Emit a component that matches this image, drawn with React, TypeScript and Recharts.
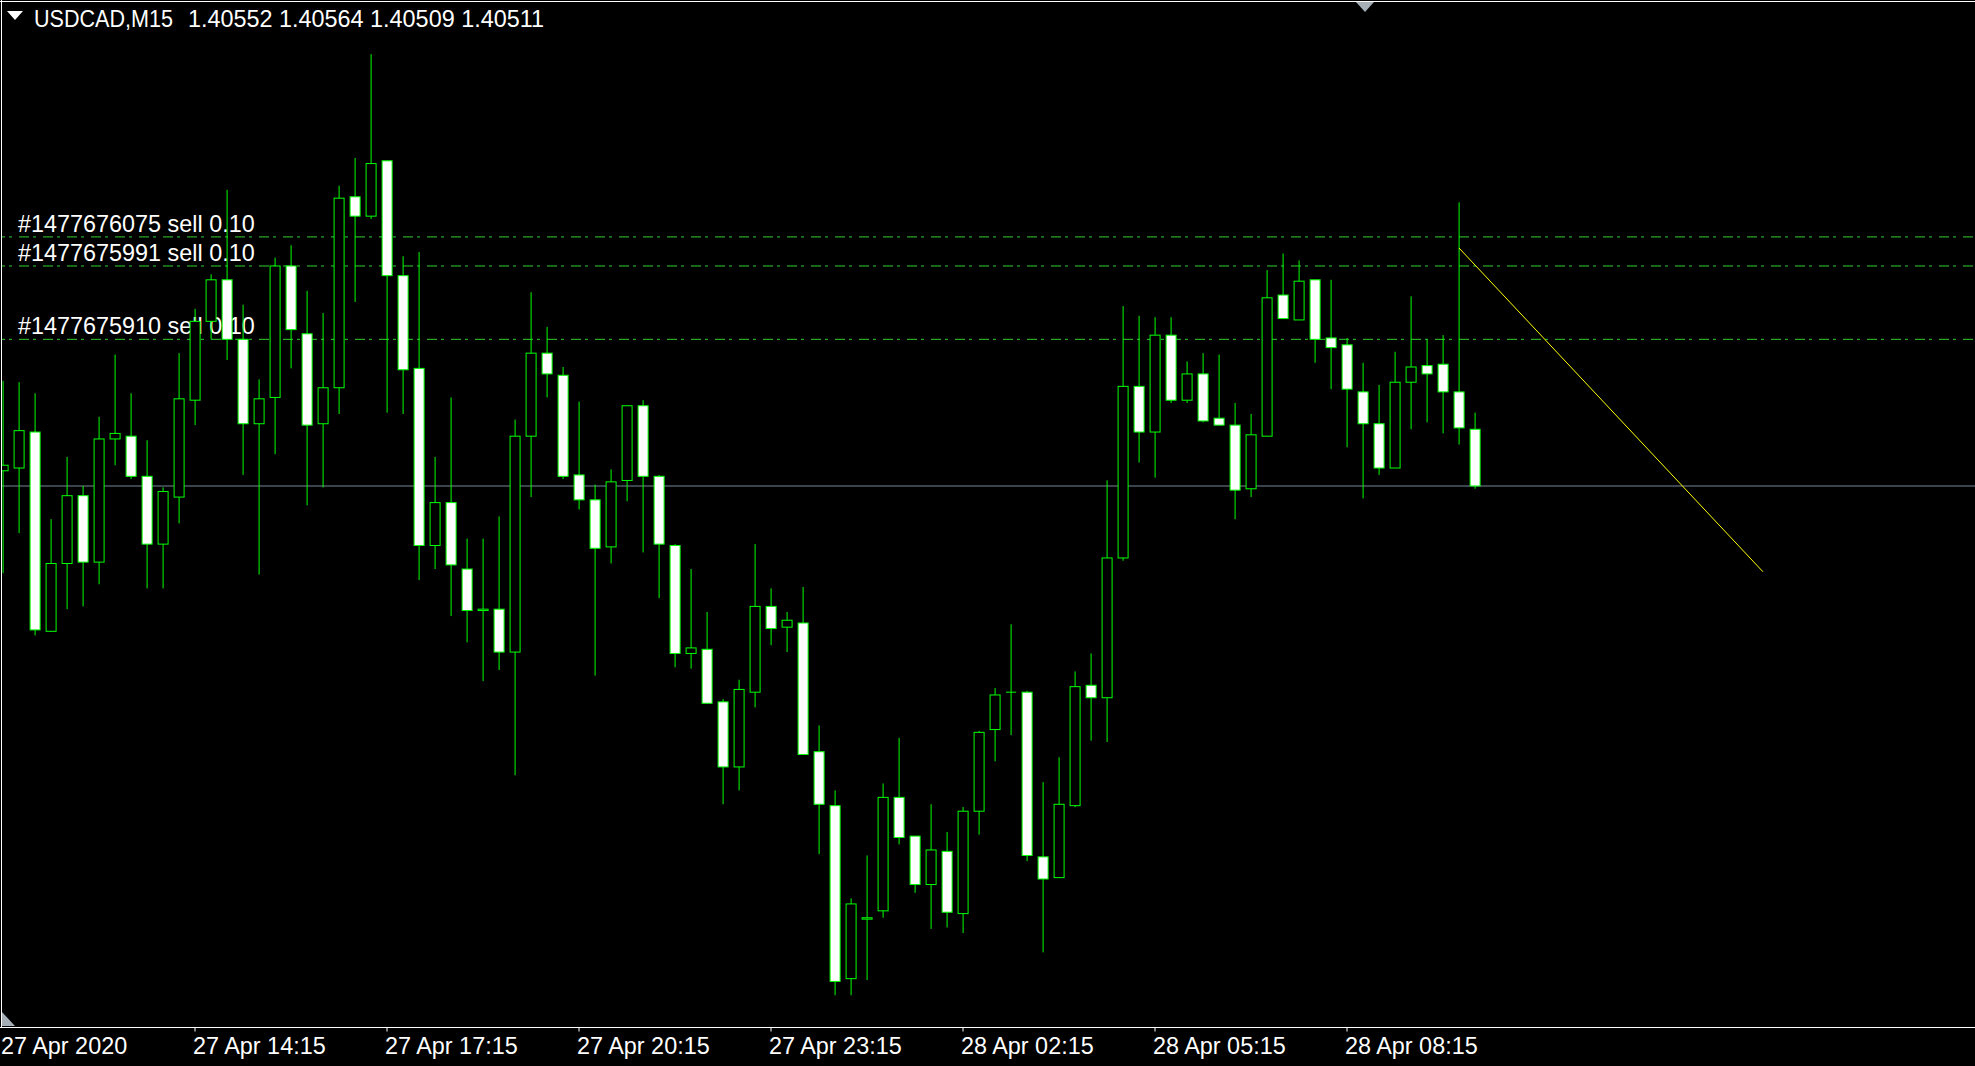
import React from 'react';
import { ComposedChart, Bar, XAxis, YAxis, ReferenceLine } from 'recharts';

const TITLE_SYMBOL = 'USDCAD,M15';
const TITLE_OHLC = '1.40552 1.40564 1.40509 1.40511';

// x axis labels, one every 12 bars (3 hours of M15)
const TICK_SLOTS = [0, 12, 24, 36, 48, 60, 72, 84];
const TICK_LABELS = [
  '27 Apr 2020', '27 Apr 14:15', '27 Apr 17:15', '27 Apr 20:15',
  '27 Apr 23:15', '28 Apr 02:15', '28 Apr 05:15', '28 Apr 08:15',
];

const OPEN = [
  1.40522, 1.40524, 1.40550, 1.40406, 1.40455, 1.40504, 1.40456, 1.40545, 1.40547, 1.40518,
  1.40469, 1.40503, 1.40573, 1.40630, 1.40660, 1.40617, 1.40556, 1.40575, 1.40670, 1.40621,
  1.40556, 1.40582, 1.40720, 1.40706, 1.40746, 1.40663, 1.40596, 1.40468, 1.40499, 1.40451,
  1.40421, 1.40422, 1.40391, 1.40547, 1.40607, 1.40591, 1.40519, 1.40501, 1.40467, 1.40515,
  1.40569, 1.40518, 1.40468, 1.40390, 1.40393, 1.40355, 1.40308, 1.40362, 1.40424, 1.40409,
  1.40412, 1.40319, 1.40280, 1.40155, 1.40198, 1.40204, 1.40286, 1.40258, 1.40223, 1.40247,
  1.40202, 1.40276, 1.40335, 1.40362, 1.40362, 1.40243, 1.40228, 1.40280, 1.40367, 1.40358,
  1.40459, 1.40583, 1.40550, 1.40620, 1.40573, 1.40592, 1.40560, 1.40555, 1.40509, 1.40547,
  1.40649, 1.40631, 1.40660, 1.40618, 1.40613, 1.40579, 1.40556, 1.40524, 1.40586, 1.40598,
  1.40599, 1.40579, 1.40552,
];
const HIGH = [
  1.40587, 1.40586, 1.40578, 1.40487, 1.40532, 1.40511, 1.40561, 1.40606, 1.40578, 1.40544,
  1.40510, 1.40607, 1.40639, 1.40664, 1.40725, 1.40642, 1.40588, 1.40676, 1.40685, 1.40652,
  1.40636, 1.40728, 1.40748, 1.40823, 1.40746, 1.40677, 1.40680, 1.40532, 1.40575, 1.40473,
  1.40473, 1.40489, 1.40559, 1.40651, 1.40626, 1.40597, 1.40572, 1.40512, 1.40523, 1.40569,
  1.40573, 1.40519, 1.40469, 1.40451, 1.40420, 1.40357, 1.40371, 1.40469, 1.40437, 1.40420,
  1.40438, 1.40338, 1.40291, 1.40213, 1.40244, 1.40296, 1.40329, 1.40258, 1.40281, 1.40261,
  1.40279, 1.40334, 1.40365, 1.40411, 1.40363, 1.40297, 1.40315, 1.40377, 1.40390, 1.40515,
  1.40641, 1.40634, 1.40633, 1.40633, 1.40601, 1.40607, 1.40606, 1.40571, 1.40563, 1.40667,
  1.40679, 1.40674, 1.40660, 1.40660, 1.40618, 1.40600, 1.40584, 1.40608, 1.40648, 1.40617,
  1.40620, 1.40716, 1.40564,
];
const LOW = [
  1.40448, 1.40477, 1.40403, 1.40406, 1.40422, 1.40424, 1.40440, 1.40526, 1.40516, 1.40437,
  1.40437, 1.40484, 1.40555, 1.40617, 1.40602, 1.40519, 1.40447, 1.40534, 1.40596, 1.40497,
  1.40510, 1.40563, 1.40644, 1.40704, 1.40564, 1.40563, 1.40443, 1.40451, 1.40417, 1.40398,
  1.40370, 1.40378, 1.40302, 1.40503, 1.40575, 1.40516, 1.40494, 1.40374, 1.40455, 1.40500,
  1.40463, 1.40430, 1.40380, 1.40379, 1.40354, 1.40281, 1.40291, 1.40351, 1.40396, 1.40391,
  1.40317, 1.40245, 1.40143, 1.40143, 1.40154, 1.40199, 1.40252, 1.40217, 1.40191, 1.40192,
  1.40188, 1.40259, 1.40312, 1.40331, 1.40240, 1.40174, 1.40228, 1.40279, 1.40327, 1.40326,
  1.40457, 1.40528, 1.40517, 1.40571, 1.40571, 1.40557, 1.40555, 1.40487, 1.40503, 1.40547,
  1.40632, 1.40631, 1.40600, 1.40581, 1.40539, 1.40502, 1.40519, 1.40524, 1.40552, 1.40557,
  1.40549, 1.40541, 1.40509,
];
const CLOSE = [
  1.40526, 1.40551, 1.40407, 1.40455, 1.40504, 1.40456, 1.40545, 1.40549, 1.40518, 1.40469,
  1.40507, 1.40574, 1.40630, 1.40660, 1.40617, 1.40556, 1.40574, 1.40670, 1.40624, 1.40555,
  1.40582, 1.40719, 1.40706, 1.40744, 1.40663, 1.40595, 1.40468, 1.40499, 1.40454, 1.40421,
  1.40422, 1.40391, 1.40547, 1.40607, 1.40592, 1.40518, 1.40501, 1.40466, 1.40514, 1.40569,
  1.40518, 1.40469, 1.40390, 1.40394, 1.40354, 1.40308, 1.40364, 1.40424, 1.40408, 1.40414,
  1.40317, 1.40281, 1.40153, 1.40209, 1.40199, 1.40286, 1.40257, 1.40223, 1.40248, 1.40203,
  1.40276, 1.40333, 1.40360, 1.40362, 1.40244, 1.40227, 1.40281, 1.40366, 1.40358, 1.40459,
  1.40583, 1.40550, 1.40620, 1.40573, 1.40592, 1.40558, 1.40555, 1.40508, 1.40548, 1.40647,
  1.40632, 1.40659, 1.40617, 1.40611, 1.40581, 1.40556, 1.40524, 1.40586, 1.40597, 1.40592,
  1.40579, 1.40553, 1.40511,
];

const ORDER_LABELS = ['#1477676075 sell 0.10', '#1477675991 sell 0.10', '#1477675910 sell 0.10'];
const ORDER_PRICES = [1.40691, 1.40670, 1.40617];
const BID = 1.40511;
const TREND_SLOTS = [91, 110];
const TREND_PRICES = [1.40683, 1.40449];

const SLOT_COUNT = 124; // bars + empty shift area on the right
const Y_DOMAIN: [number, number] = [1.401197, 1.408622];

const FONT = '"Liberation Sans", Arial, sans-serif';
const FONT_SIZE = 23.4;
const BAR_GREEN = '#00ff00';
const ORDER_GREEN = '#32cd32';

const data = Array.from({ length: SLOT_COUNT }, (_, i) =>
  i < OPEN.length
    ? { slot: i, o: OPEN[i], h: HIGH[i], l: LOW[i], c: CLOSE[i], range: [LOW[i], HIGH[i]] }
    : { slot: i, range: null },
);

function Candle(props: any) {
  const { x, y, width, height, payload } = props;
  if (!payload || payload.o == null || !Number.isFinite(y) || !Number.isFinite(height)) return null;
  const { o, h, l, c } = payload;
  const yHigh = Math.min(y, y + height);
  const yLow = Math.max(y, y + height);
  const k = (yLow - yHigh) / (h - l);
  const toY = (v: number) => yHigh + (h - v) * k;
  const cx = x + width / 2;
  const top = toY(Math.max(o, c));
  const bottom = toY(Math.min(o, c));
  return (
    <g>
      <line x1={cx} x2={cx} y1={yHigh} y2={yLow} stroke={BAR_GREEN} strokeWidth={1} />
      {bottom - top < 1 ? (
        <line x1={cx - 5} x2={cx + 5} y1={top} y2={top} stroke={BAR_GREEN} strokeWidth={1} />
      ) : (
        <rect
          x={cx - 5}
          y={top}
          width={10}
          height={bottom - top}
          fill={c < o ? '#ffffff' : '#000000'}
          stroke={BAR_GREEN}
          strokeWidth={1}
        />
      )}
    </g>
  );
}

function TimeTick(props: any) {
  const { x, y, payload } = props;
  const idx = TICK_SLOTS.indexOf(payload.value);
  if (idx < 0) return null;
  return (
    <g>
      {idx > 0 && <line x1={x} x2={x} y1={y} y2={y + 4} stroke="#ffffff" />}
      <text x={x - 2} y={y + 26} fill="#ffffff" fontFamily={FONT} fontSize={FONT_SIZE}>
        {TICK_LABELS[idx]}
      </text>
    </g>
  );
}

function OrderLine(props: any) {
  const { x1, x2, y1, y2, label } = props;
  if (!Number.isFinite(y1)) return null;
  return (
    <g>
      <line x1={x1} x2={x2} y1={y1} y2={y2} stroke={ORDER_GREEN} strokeWidth={1} strokeDasharray="10 4 3 7" />
      <text x={23} y={y1 - 5} fill="#ffffff" fontFamily={FONT} fontSize={FONT_SIZE}>
        {label}
      </text>
    </g>
  );
}

export default function App() {
  return (
    <div style={{ position: 'fixed', inset: 0, width: 1975, height: 1066, background: '#000', overflow: 'hidden' }}>
      <div style={{ position: 'absolute', left: -5.5, top: 0 }}>
        <ComposedChart
          width={1984}
          height={1066}
          data={data}
          margin={{ top: 0, right: 0, bottom: 0, left: 0 }}
        >
          <XAxis
            dataKey="slot"
            type="category"
            ticks={TICK_SLOTS}
            interval={0}
            tick={<TimeTick />}
            tickLine={false}
            tickSize={0}
            tickMargin={0}
            axisLine={{ stroke: '#ffffff' }}
            height={38.5}
          />
          <YAxis hide type="number" domain={Y_DOMAIN} allowDataOverflow />
          <ReferenceLine y={BID} stroke="#778899" strokeWidth={1} zIndex={50} />
          {ORDER_PRICES.map((p, i) => (
            <ReferenceLine
              key={ORDER_LABELS[i]}
              y={p}
              zIndex={50}
              shape={(lp: any) => <OrderLine {...lp} label={ORDER_LABELS[i]} />}
            />
          ))}
          <Bar dataKey="range" shape={<Candle />} isAnimationActive={false} />
          <ReferenceLine
            segment={[
              { x: TREND_SLOTS[0], y: TREND_PRICES[0] },
              { x: TREND_SLOTS[1], y: TREND_PRICES[1] },
            ]}
            stroke="#ffff00"
            strokeWidth={1}
            ifOverflow="visible"
            zIndex={1000}
          />
        </ComposedChart>
      </div>
      <svg width={1975} height={1066} style={{ position: 'absolute', left: 0, top: 0, pointerEvents: 'none' }}>
        <rect x={0} y={0} width={1} height={1027} fill="#000" />
        <line x1={1.5} x2={1.5} y1={0} y2={1027} stroke="#ffffff" />
        <line x1={0} x2={1975} y1={1.5} y2={1.5} stroke="#ffffff" />
        <polygon points="7,11 23,11 15,20" fill="#ffffff" />
        <text x={34} y={27} fill="#ffffff" fontFamily={FONT} fontSize={FONT_SIZE} textLength={139} lengthAdjust="spacingAndGlyphs">
          {TITLE_SYMBOL}
        </text>
        <text x={188} y={27} fill="#ffffff" fontFamily={FONT} fontSize={FONT_SIZE}>
          {TITLE_OHLC}
        </text>
        <polygon points="1356,2 1374,2 1365,12" fill="#a6aeb6" />
        <polygon points="2,1012 2,1026 15,1026" fill="#a6aeb6" />
      </svg>
    </div>
  );
}
